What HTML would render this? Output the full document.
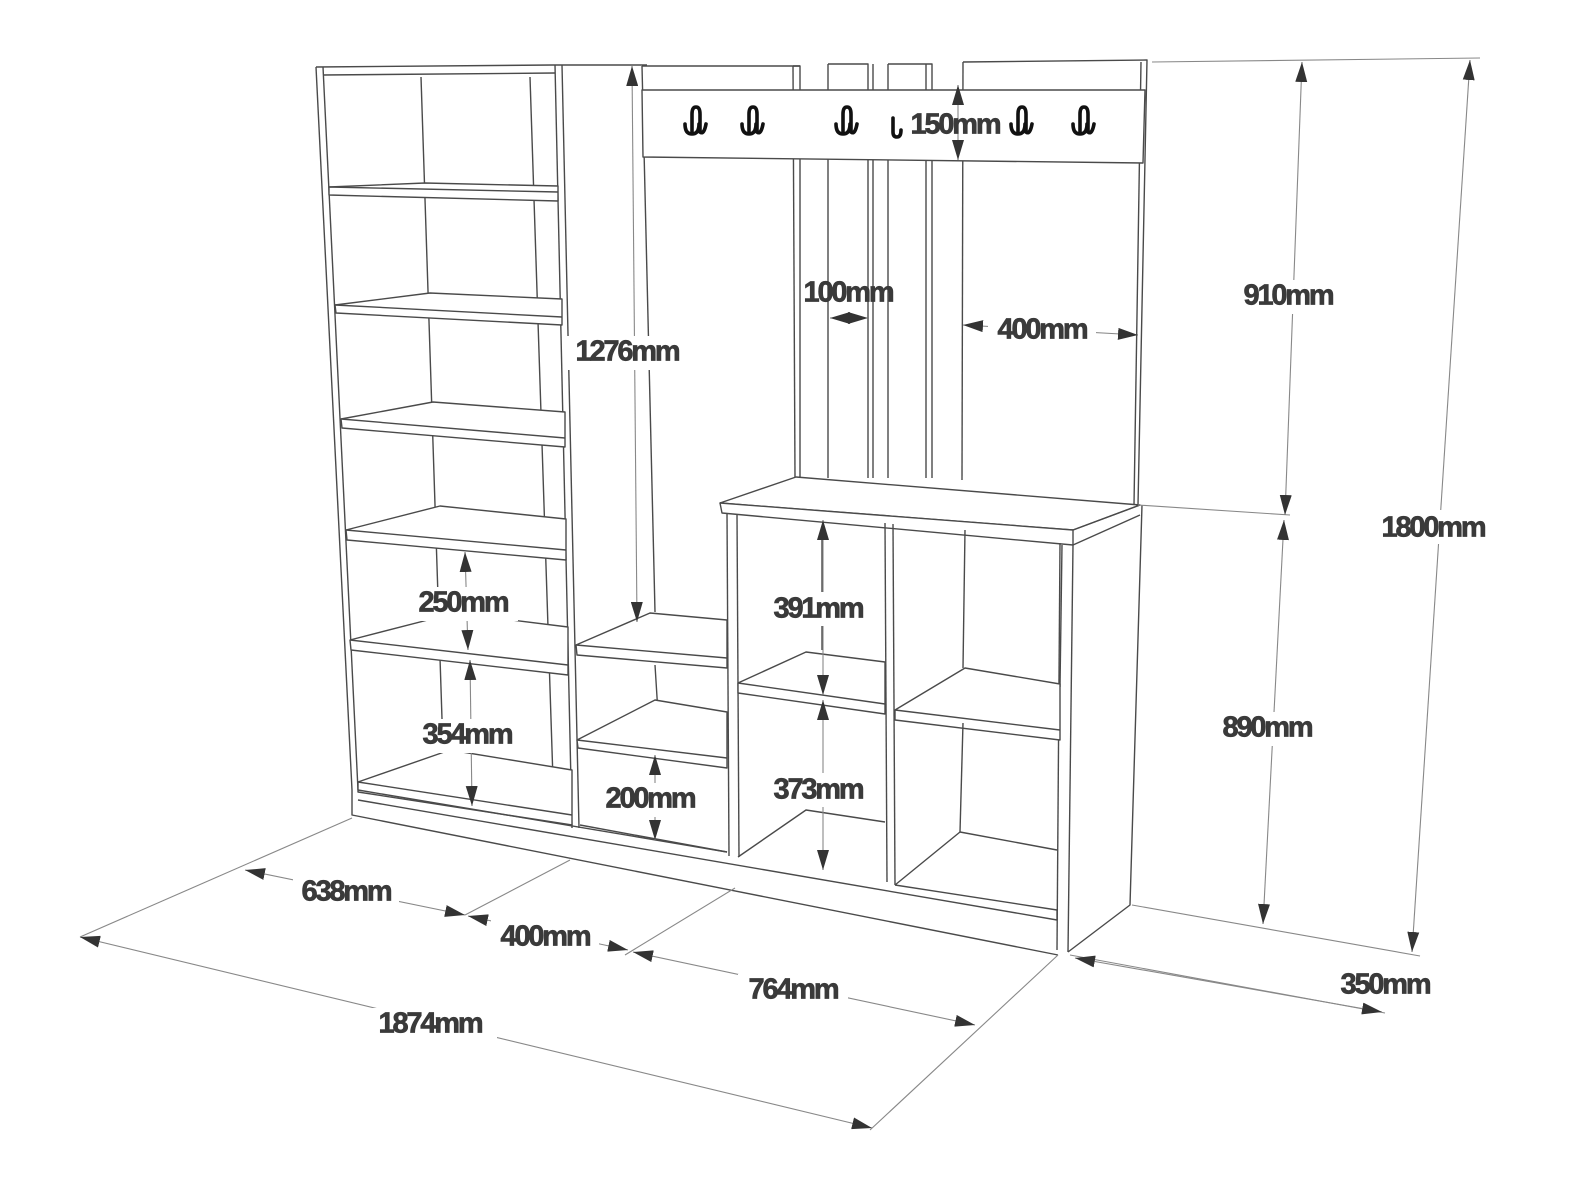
<!DOCTYPE html>
<html><head><meta charset="utf-8"><style>
html,body{margin:0;padding:0;background:#fff;}
svg{display:block}
text{font-family:"Liberation Sans",sans-serif;font-weight:bold;font-size:29px;fill:#3a3a3a;stroke:#3a3a3a;stroke-width:0.7;letter-spacing:-2.2px;text-anchor:middle;dominant-baseline:middle}
.f{stroke:#4a4a4a;stroke-width:1.4;fill:none;stroke-linejoin:round}
.d{stroke:#888;stroke-width:1.1;fill:none}
.w{fill:#fff}
</style></head><body>
<svg width="1579" height="1200" viewBox="0 0 1579 1200" xmlns="http://www.w3.org/2000/svg">
<defs>
<marker id="a" viewBox="0 0 10 10" refX="10" refY="5" markerWidth="20" markerHeight="12" markerUnits="userSpaceOnUse" orient="auto-start-reverse" preserveAspectRatio="none">
<path d="M0,0 L10,5 L0,10 z" fill="#333"/></marker>
</defs>

<g class="f">
<path d="M316,67 L553,65 L647,65"/>
<path d="M323,75 L555,73"/>
<path d="M316,67 L352,790"/>
<path d="M323,67 L358,790"/>
<path d="M555,65 L572,828"/>
<path d="M562,65 L579,828"/>
<path d="M421,77 L444,780"/>
<path d="M530,77 L553,780"/>
<path class="w" d="M329,187 L425,183 L558,186 L558,201 L329,195 Z"/><path d="M329,187 L558,192"/>
<path class="w" d="M335,305 L430,293 L562,299 L562,325 L336,313 Z"/><path d="M335,305 L562,317"/>
<path class="w" d="M341,419 L433,402 L565,412 L565,447 L342,428 Z"/><path d="M341,419 L565,438"/>
<path class="w" d="M346,530 L440,506 L566,519 L566,560 L347,540 Z"/><path d="M346,530 L566,550"/>
<path class="w" d="M350,640 L455,613 L568,627 L568,675 L351,650 Z"/><path d="M350,640 L568,665"/>
<path class="w" d="M358,782 L450,750 L572,770 L572,825 L358,792 Z"/><path d="M358,782 L572,815"/>
<path d="M352,790 L352,815 L1058,955"/>
</g>

<g class="f">
<path d="M642,66 L655,612"/>
<path d="M800,66 L642,66"/><path d="M793,66 L800,66 L800,478"/><path d="M793,66 L795,478"/>
<path d="M828,64 L868,64 L868,478"/><path d="M828,64 L828,478"/><path d="M873,64 L873,478"/>
<path d="M888,64 L932,64 L932,478"/><path d="M888,64 L888,478"/><path d="M926,64 L926,478"/>
<path d="M963,62 L1147,60 L1138,505"/><path d="M963,62 L962,480"/><path d="M1141,62 L1134,505"/>
<path class="w" d="M642,90 L1145,90 L1143,163 L643,157 Z"/>
</g>
<g fill="none" stroke="#111" stroke-width="3.6" stroke-linecap="round">
<g id="hk"><path d="M685,124 q0,10 7,10 q7,0 7,-10"/><path d="M692,132 L692,114 q0,-7 4,-7 q4,0 4,7 L700,132 q4,3 6,-8"/></g>
<use href="#hk" x="57"/><use href="#hk" x="151"/><use href="#hk" x="326"/><use href="#hk" x="388"/>
<path d="M893,118 L893,132 q0,5 4,5 q4,0 4,-7"/>
</g>

<g class="f">
<path class="w" d="M576,645 L650,613 L727,620 L727,668 L577,655 Z"/><path d="M576,645 L727,658"/>
<path d="M655,665 L660,745"/>
<path class="w" d="M577,740 L655,700 L727,712 L727,768 L578,748 Z"/><path d="M577,740 L727,758"/>
<path d="M580,825 L727,852"/>
</g>

<g class="f">
<path class="w" d="M720,503 L796,477 L1140,505 L1073,530 Z"/>
<path class="w" d="M720,503 L1073,530 L1073,545 L722,513 Z"/>
<path d="M1073,545 L1140,515"/>
<path d="M1073,530 L1140,505"/>
<path d="M727,513 L729,856"/><path d="M737,514 L739,857"/>
<path d="M1060,543 L1057,950"/><path d="M1073,545 L1068,952"/>
<path d="M1142,505 L1130,905 L1068,952"/>
<path d="M885,523 L887,882"/><path d="M893,524 L895,885"/>
<path d="M822,532 L822,650"/>
<path class="w" d="M738,683 L806,652 L885,662 L885,714 L738,693 Z"/><path d="M738,683 L885,704"/>
<path d="M738,857 L806,810 L885,822"/>
<path d="M965,530 L963,668"/><path d="M1062,545 L1060,687"/>
<path class="w" d="M895,710 L965,668 L1060,684 L1060,740 L895,720 Z"/><path d="M895,710 L1060,730"/>
<path d="M963,723 L960,832"/>
<path d="M895,885 L960,832 L1057,850"/>
<path d="M895,885 L1057,910"/><path d="M1057,910 L1057,920"/>
<path d="M358,800 L1057,920"/>
<path d="M358,790 L727,852"/>
</g>

<g class="d">
<path d="M1152,62 L1480,58"/>
<path d="M1138,505 L1290,515"/>
<path d="M1132,905 L1420,956"/>
<path d="M1070,955 L1385,1013"/>
<path d="M352,818 L80,937"/>
<path d="M570,860 L465,915"/>
<path d="M735,888 L625,955"/>
<path d="M1058,955 L870,1130"/>
</g>

<g class="d" marker-start="url(#a)" marker-end="url(#a)">
<path d="M1302,62 L1285,515"/>
<path d="M1284,520 L1263,924"/>
<path d="M1470,60 L1412,952"/>
<path d="M80,937 L872,1128"/>
<path d="M245,870 L465,915"/>
<path d="M468,916 L628,950"/>
<path d="M633,952 L975,1025"/>
<path d="M1075,958 L1382,1012"/>
<path d="M632,66 L637,622"/>
<path d="M830,318 L868,318"/>
<path d="M963,325 L1138,335"/>
<path d="M958,85 L958,160"/>
<path d="M465,552 L468,650"/>
<path d="M470,660 L472,806"/>
<path d="M655,755 L655,840"/>
<path d="M823,520 L823,695"/>
<path d="M823,700 L823,870"/>
</g>

<g>
<rect x="1232" y="280" width="110" height="34" fill="#fff"/><text x="1288" y="297">910mm</text>
<rect x="1212" y="712" width="110" height="34" fill="#fff"/><text x="1267" y="729">890mm</text>
<rect x="1368" y="510" width="134" height="34" fill="#fff"/><text x="1433" y="529">1800mm</text>
<text x="1385" y="986">350mm</text>
<rect x="363" y="1008" width="134" height="34" fill="#fff"/><text x="430" y="1025">1874mm</text>
<rect x="293" y="876" width="106" height="34" fill="#fff"/><text x="346" y="893">638mm</text>
<rect x="491" y="920" width="108" height="34" fill="#fff"/><text x="545" y="938">400mm</text>
<rect x="738" y="974" width="110" height="34" fill="#fff"/><text x="793" y="991">764mm</text>
<rect x="566" y="336" width="122" height="34" fill="#fff"/><text x="627" y="353">1276mm</text>
<text x="848" y="294">100mm</text>
<rect x="988" y="314" width="108" height="34" fill="#fff"/><text x="1042" y="331">400mm</text>
<text x="955" y="126">150mm</text>
<rect x="410" y="587" width="108" height="34" fill="#fff"/><text x="463" y="604">250mm</text>
<rect x="414" y="719" width="108" height="34" fill="#fff"/><text x="467" y="736">354mm</text>
<rect x="596" y="783" width="108" height="34" fill="#fff"/><text x="650" y="800">200mm</text>
<rect x="764" y="592" width="108" height="34" fill="#fff"/><text x="818" y="610">391mm</text>
<rect x="764" y="773" width="108" height="34" fill="#fff"/><text x="818" y="791">373mm</text>
</g>
</svg>
</body></html>
